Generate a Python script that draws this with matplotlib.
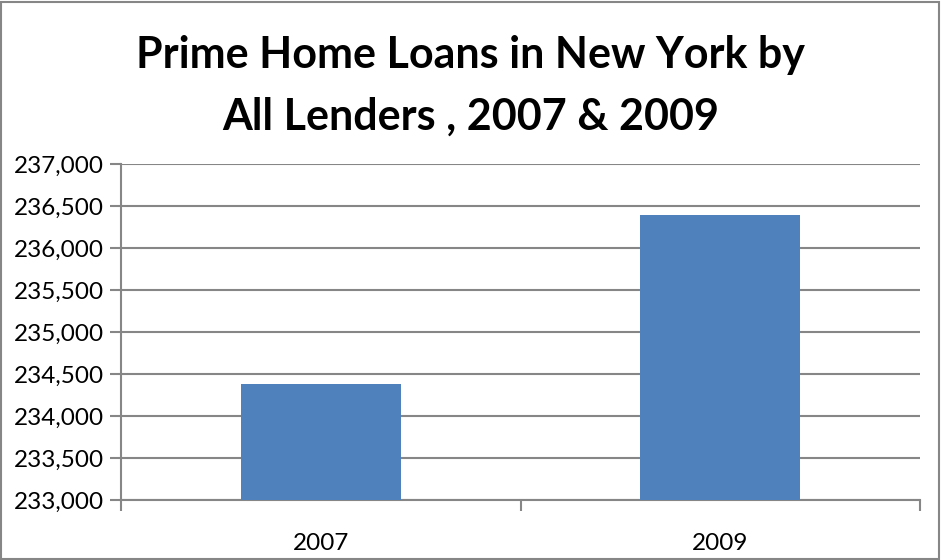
import matplotlib.pyplot as plt
from matplotlib.ticker import FuncFormatter, FixedLocator
from matplotlib.patches import Rectangle

years = ["2007", "2009"]
loans = [234380, 236390]
y_ticks = [233000, 233500, 234000, 234500, 235000, 235500, 236000, 236500, 237000]
title_lines = ["Prime Home Loans in New York by", "All Lenders , 2007 & 2009"]

plt.rcParams['font.family'] = ['Lato', 'DejaVu Sans']
grey = '#868686'

fig = plt.figure(figsize=(9.41, 5.6), dpi=100)
ax = fig.add_axes([121 / 941, 60 / 560, 799 / 941, 336 / 560])

x = range(len(years))
ax.bar(x, loans, width=0.4, color='#4f81bd', zorder=3)

ax.set_xlim(-0.5, len(years) - 0.5)
ax.set_ylim(y_ticks[0], y_ticks[-1])
ax.set_yticks(y_ticks)
ax.yaxis.set_major_formatter(FuncFormatter(lambda v, p: f"{int(v):,}"))
ax.set_xticks(list(x))
ax.set_xticklabels(years)
# category boundary ticks on the x axis
ax.xaxis.set_minor_locator(FixedLocator([-0.5, 0.5, 1.5]))
ax.tick_params(axis='x', which='major', length=0, pad=24, labelsize=17.5)
ax.tick_params(axis='x', which='minor', length=8, color=grey, width=1.5)
ax.tick_params(axis='y', length=8, color=grey, width=1.5, labelsize=17.5, pad=4)

ax.grid(axis='y', color=grey, linewidth=1.5, zorder=0)
for side in ['top', 'right']:
    ax.spines[side].set_visible(False)
for side in ['left', 'bottom']:
    ax.spines[side].set_color(grey)
    ax.spines[side].set_linewidth(1.5)

# two title lines, placed by baseline
for line, base in zip(title_lines, [68, 130]):
    fig.text(0.5, 1 - base / 560, line, ha='center', va='baseline',
             fontsize=31, fontweight='bold')

# chart area border
fig.patches.append(Rectangle((0.001, 0.002), 0.997, 0.994, transform=fig.transFigure,
                             fill=False, edgecolor=grey, linewidth=1.5))

fig.savefig('out.png', dpi=100)
